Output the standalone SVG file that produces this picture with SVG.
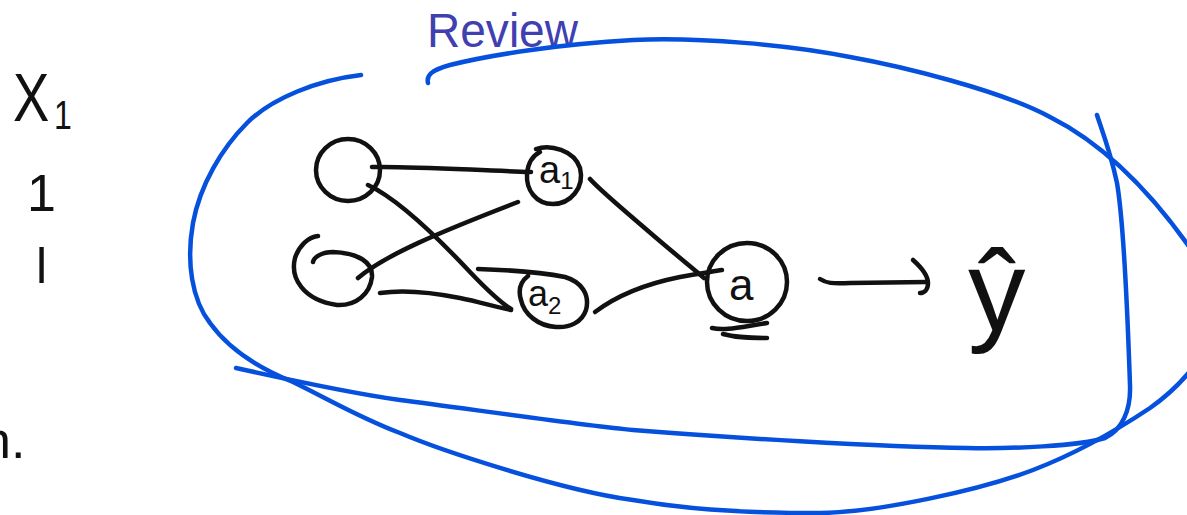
<svg xmlns="http://www.w3.org/2000/svg" width="1187" height="515" viewBox="0 0 1187 515">
<style>
.ink{fill:none;stroke:#111;stroke-width:4.5;stroke-linecap:round;stroke-linejoin:round}
.blue{fill:none;stroke:#0650de;stroke-width:4.5;stroke-linecap:round;stroke-linejoin:round}
.hw{font-family:"Liberation Sans","DejaVu Sans",sans-serif;fill:#111}
</style>
<rect width="1187" height="515" fill="#fff"/>
<text x="427" y="47" font-family="Liberation Sans, sans-serif" font-size="48" fill="#4040b0" textLength="151" lengthAdjust="spacingAndGlyphs">Review</text>
<g id="side-notes">
<text class="hw" transform="translate(13,121) scale(0.8,1)" font-size="68">X<tspan font-size="40" dx="6" dy="8">1</tspan></text>
<text class="hw" x="27" y="211" font-size="52">1</text>
<text class="hw" x="36" y="283" font-size="50">l</text>
<text class="hw" x="-18" y="458" font-size="52">n.</text>
</g>
<g id="loop">
<path class="blue" d="M361,75 C318,80 272,98 247,123 C222,148 200,185 193,223 C186,262 192,300 210,323 C228,348 258,368 293,382 C330,400 360,418 400,433 C440,450 560,490 633,500 C680,508 730,513 820,513 C880,512 980,490 1033,470 C1080,452 1117,430 1150,408 C1170,394 1185,378 1195,365"/>
<path class="blue" d="M428,83 C426,75 432,70 450,65 C490,55 560,44 633,40 C700,37 790,45 850,57 C900,66 1000,90 1050,117 C1090,137 1140,175 1195,255"/>
<path class="blue" d="M1097,115 C1100,125 1110,150 1117,183 C1125,230 1128,330 1130,385 C1131,410 1122,430 1105,438 C1080,446 1010,449 967,448 C880,447 720,437 633,430 C580,425 470,409 400,400 C350,393 290,380 236,368"/>
</g>
<g id="connectors">
<path class="ink" d="M372,167 C410,166 470,170 531,172"/>
<path class="ink" d="M368,185 C400,200 440,240 470,272 C490,293 503,304 511,309"/>
<path class="ink" d="M380,293 C400,290 430,292 460,298 C480,302 495,307 511,310"/>
<path class="ink" d="M358,278 C385,255 440,232 518,202"/>
<path class="ink" d="M590,179 C596,186 620,207 647,230 C670,250 690,266 704,278"/>
<path class="ink" d="M595,312 C615,297 640,285 680,277 C695,274 710,272 722,270"/>
<path class="ink" d="M820,279 C826,283 832,284 850,283 L927,282"/>
<path class="ink" d="M913,260 C922,268 928,276 928,283 C928,290 924,293 920,293"/>
</g>
<g id="node-x1">
<ellipse class="ink" cx="348" cy="170" rx="32" ry="31"/>
</g>
<g id="node-x2">
<path class="ink" d="M318,236 C308,237 299,246 295,258 C290,278 303,300 337,305 C356,306 370,294 372,277 C373,262 358,253 333,252 C322,252 314,257 313,262"/>
</g>
<g id="node-a1">
<path class="ink" d="M536,149 C550,144 574,150 580,168 C585,188 570,204 553,204 C536,204 526,190 527,174 C528,162 534,155 540,152"/>
<text class="hw" x="539" y="183" font-size="38">a<tspan font-size="24" dy="6">1</tspan></text>
</g>
<g id="node-a2">
<path class="ink" d="M478,269 C510,270 545,273 565,277 C582,282 590,295 586,310 C582,322 570,328 556,327 C538,326 524,314 521,300 C518,290 520,282 528,276"/>
<text class="hw" x="528" y="306" font-size="36">a<tspan font-size="24" dy="8">2</tspan></text>
</g>
<g id="node-a">
<ellipse class="ink" cx="747" cy="282" rx="40" ry="39"/>
<text class="hw" x="729" y="300" font-size="44">a</text>
<path class="ink" d="M712,328 C725,331 740,327 767,323"/>
<path class="ink" d="M723,334 C738,338 752,338 767,338"/>
</g>
<g id="output">
<text class="hw" x="968" y="330" font-size="115">ŷ</text>
</g>
</svg>
